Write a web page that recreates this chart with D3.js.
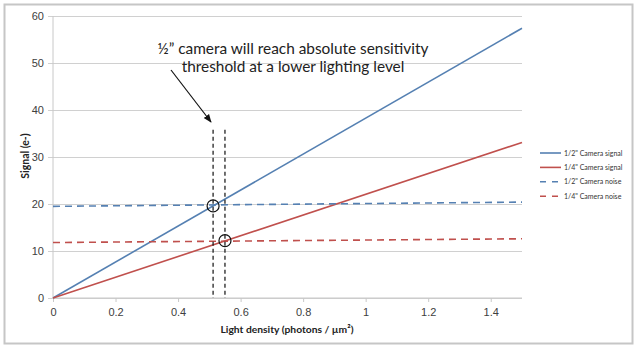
<!DOCTYPE html>
<html>
<head>
    <meta charset="utf-8">
    <title>Signal vs light density</title>
    <style>
        body {
            margin: 0;
            background: #fff;
            font-family: Lato, "Open Sans", sans-serif;
        }
        svg {
            display: block;
        }
        .tick text {
            fill: #404040;
            font-size: 11px;
        }
    </style>
</head>
<body>
    <script src="https://d3js.org/d3.v7.min.js"></script>
    <script>
        // Data
        var xTicks = [0, 0.2, 0.4, 0.6, 0.8, 1, 1.2, 1.4];
        var yTicks = [0, 10, 20, 30, 40, 50, 60];
        var seriesNames = ["1/2\" Camera signal", "1/4\" Camera signal", "1/2\" Camera noise", "1/4\" Camera noise"];
        var seriesColors = ["#5580b2", "#c0504d", "#5580b2", "#c0504d"];
        var seriesDashed = [false, false, true, true];
        var halfSignal = [[0, 0], [1.5, 57.4]];
        var quarterSignal = [[0, 0], [1.5, 33.1]];
        var halfNoise = [[0, 19.5], [1.5, 20.4]];
        var quarterNoise = [[0, 11.8], [1.5, 12.6]];
        var thresholdX = [0.512, 0.55];
        var thresholdY = [19.6, 12.2];
        var thresholdTop = 35.8;
        var noteLines = ["\u00bd\u201d camera will reach absolute sensitivity", "threshold at a lower lighting level"];

        var width = 640, height = 349;
        var margin = { left: 53, right: 118, top: 16, bottom: 51 };

        var svg = d3.select("body").append("svg")
            .attr("width", width)
            .attr("height", height);

        // Outer chart frame
        svg.append("rect")
            .attr("x", 4.5).attr("y", 4.5)
            .attr("width", 628).attr("height", 339)
            .attr("fill", "#fff")
            .attr("stroke", "#c6c6c6")
            .attr("stroke-width", 2);

        var x = d3.scaleLinear().domain([0, 1.5]).range([margin.left, width - margin.right]);
        var y = d3.scaleLinear().domain([0, 60]).range([height - margin.bottom, margin.top]);

        // Horizontal gridlines with small outside ticks
        svg.append("g")
            .attr("transform", "translate(" + margin.left + ",0)")
            .call(d3.axisLeft(y).tickValues(yTicks).tickSize(-(x.range()[1] - x.range()[0])).tickPadding(9))
            .call(function(g) {
                g.select(".domain").remove();
                g.selectAll(".tick line").attr("stroke", "#d0d0d0").attr("x1", -5);
            });

        // Y axis line
        svg.append("line")
            .attr("x1", margin.left).attr("x2", margin.left)
            .attr("y1", y(60)).attr("y2", y(0))
            .attr("stroke", "#c8c8c8");

        // X axis
        svg.append("g")
            .attr("transform", "translate(0," + y(0) + ")")
            .call(d3.axisBottom(x).tickValues(xTicks).tickSize(4).tickPadding(6)
                .tickFormat(function(d) { return d3.format("~g")(d); }))
            .call(function(g) {
                g.select(".domain").attr("stroke", "#c8c8c8").attr("d", "M" + x(0) + ",0H" + x(1.5));
                g.selectAll(".tick line").attr("stroke", "#c8c8c8");
            });

        // Series lines
        var line = d3.line().x(function(d) { return x(d[0]); }).y(function(d) { return y(d[1]); });
        var series = [halfSignal, quarterSignal, halfNoise, quarterNoise];
        series.forEach(function(s, i) {
            svg.append("path")
                .attr("d", line(s))
                .attr("fill", "none")
                .attr("stroke", seriesColors[i])
                .attr("stroke-width", 1.6)
                .attr("stroke-dasharray", seriesDashed[i] ? "7,5" : null);
        });

        // Threshold markers
        thresholdX.forEach(function(v, i) {
            svg.append("line")
                .attr("x1", x(v)).attr("x2", x(v))
                .attr("y1", y(thresholdTop)).attr("y2", y(0))
                .attr("stroke", "#111")
                .attr("stroke-width", 1.2)
                .attr("stroke-dasharray", "4,3");
            svg.append("circle")
                .attr("cx", x(v)).attr("cy", y(thresholdY[i]))
                .attr("r", 6)
                .attr("fill", "none")
                .attr("stroke", "#111")
                .attr("stroke-width", 1.2);
        });

        // Annotation
        svg.append("defs").append("marker")
            .attr("id", "arrow")
            .attr("viewBox", "0 0 10 10")
            .attr("refX", 9).attr("refY", 5)
            .attr("markerWidth", 7).attr("markerHeight", 7)
            .attr("orient", "auto")
            .append("path").attr("d", "M0,1L10,5L0,9z").attr("fill", "#111");

        svg.append("line")
            .attr("x1", 171).attr("y1", 70)
            .attr("x2", 211).attr("y2", 122)
            .attr("stroke", "#111")
            .attr("stroke-width", 1.2)
            .attr("marker-end", "url(#arrow)");

        noteLines.forEach(function(t, i) {
            svg.append("text")
                .attr("x", 293).attr("y", 54 + i * 18)
                .attr("text-anchor", "middle")
                .attr("font-size", 15.4)
                .attr("fill", "#222")
                .text(t);
        });

        // Axis titles
        svg.append("text")
            .attr("x", 287).attr("y", 333)
            .attr("text-anchor", "middle")
            .attr("font-size", 10.3)
            .attr("font-weight", "bold")
            .attr("fill", "#222")
            .text("Light density (photons / \u00b5m\u00b2)");

        svg.append("text")
            .attr("transform", "translate(29,156) rotate(-90)")
            .attr("text-anchor", "middle")
            .attr("font-size", 10.5)
            .attr("font-weight", "bold")
            .attr("fill", "#222")
            .text("Signal (e-)");

        // Legend
        var legend = svg.append("g").attr("transform", "translate(540,153)");
        seriesNames.forEach(function(name, i) {
            var row = legend.append("g").attr("transform", "translate(0," + (i * 14.4) + ")");
            row.append("line")
                .attr("x1", 0).attr("x2", 21)
                .attr("stroke", seriesColors[i])
                .attr("stroke-width", 1.6)
                .attr("stroke-dasharray", seriesDashed[i] ? "6,6" : null);
            row.append("text")
                .attr("x", 24).attr("y", 2.5)
                .attr("font-size", 7)
                .attr("fill", "#333")
                .text(name);
        });
    </script>
</body>
</html>
